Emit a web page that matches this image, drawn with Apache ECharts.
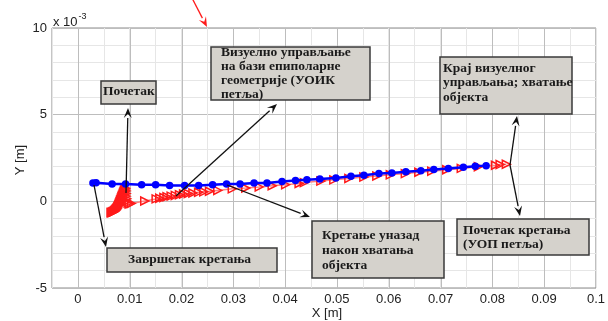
<!DOCTYPE html>
<html><head><meta charset="utf-8">
<script src="https://cdn.jsdelivr.net/npm/echarts@6/dist/echarts.min.js"></script>
<style>html,body{margin:0;padding:0;background:#fff}#c{width:608px;height:321px}</style>
</head><body><div id="c"></div>
<script>
// Y values are in units of 1e-3 m (axis shows "x 10^-3")
const blueX = [0.0029,0.0035,0.0066,0.0092,0.0123,0.0150,0.0177,0.0206,0.0233,0.0260,0.0287,0.0313,0.0340,0.0365,0.0394,0.0420,0.0442,0.0467,0.0498,0.0527,0.0552,0.0581,0.0606,0.0633,0.0662,0.0687,0.0715,0.0744,0.0767,0.0788];
const blueY = [1.06,1.07,1.00,1.00,0.96,0.95,0.92,0.92,0.92,0.96,1.00,1.00,1.06,1.06,1.14,1.20,1.25,1.29,1.35,1.45,1.50,1.60,1.64,1.70,1.77,1.83,1.89,1.97,2.02,2.06];
const redX = [0.0827,0.0815,0.0806,0.0773,0.0740,0.0712,0.0683,0.0658,0.0632,0.0603,0.0577,0.0552,0.0523,0.0494,0.0469,0.0437,0.0427,0.0401,0.0375,0.0350,0.0324,0.0298,0.0270,0.0254,0.0243,0.0233,0.0222,0.0213,0.0204,0.0196,0.0188,0.0180,0.0172,0.0166,0.0158,0.0151,0.0129,0.0103,0.0099,0.0097,0.0095,0.0094,0.0093,0.0093,0.0093,0.0092,0.0091,0.0090,0.0089,0.0088,0.0087,0.0086,0.0085,0.0084,0.0083,0.0082,0.0081,0.0080,0.0079,0.0078,0.0077,0.0076,0.0075,0.0074,0.0073,0.0072,0.0071,0.0070,0.0069,0.0068,0.0067,0.0066,0.0065,0.0064];
const redY = [2.14,2.12,2.08,2.00,1.90,1.82,1.74,1.68,1.60,1.53,1.46,1.40,1.32,1.24,1.17,1.08,1.03,0.96,0.90,0.83,0.77,0.72,0.63,0.58,0.55,0.52,0.48,0.45,0.42,0.38,0.34,0.30,0.26,0.22,0.18,0.14,0.02,-0.12,-0.16,-0.10,0.00,0.15,0.30,0.45,0.60,0.75,0.70,0.62,0.55,0.48,0.40,0.33,0.26,0.18,0.10,0.03,-0.05,-0.12,-0.20,-0.26,-0.32,-0.38,-0.42,-0.46,-0.50,-0.53,-0.56,-0.58,-0.60,-0.62,-0.63,-0.64,-0.65,-0.65];
const xMajor = [0,0.01,0.02,0.03,0.04,0.05,0.06,0.07,0.08,0.09];
const xMin = -0.005, xMax = 0.1, yMin = -5, yMax = 10;

const chart = echarts.init(document.getElementById('c'));
const serif = '"Liberation Serif","DejaVu Serif",serif';
const sans = '"Liberation Sans",Arial,sans-serif';

function box(x,y,w,h,text,tx,ty,align,lh){
  return [{type:'rect',z:100,shape:{x:x,y:y,width:w,height:h},style:{fill:'#d5d2cc',stroke:'#3a3a3a',lineWidth:1.5}},
          {type:'text',z:101,x:tx,y:ty,style:{text:text,font:'bold 13.5px '+serif,fill:'#1a1a1a',align:align,verticalAlign:'top',lineHeight:lh}}];
}
function arrow(x1,y1,x2,y2,col){
  const a=Math.atan2(y2-y1,x2-x1),L=10,W=4;
  const bx=x2-L*Math.cos(a),by=y2-L*Math.sin(a);
  const px=-Math.sin(a)*W,py=Math.cos(a)*W;
  return [{type:'line',z:102,shape:{x1:x1,y1:y1,x2:bx,y2:by},style:{stroke:col,lineWidth:1.3}},
          {type:'polygon',z:102,shape:{points:[[x2,y2],[bx+px,by+py],[x2-0.6*L*Math.cos(a),y2-0.6*L*Math.sin(a)],[bx-px,by-py]]},style:{fill:col}}];
}
const g = [].concat(
  box(101,81,55,23,'Почетак',103,85,'left',14),
  box(211,47,159,53,'Визуелно управљање\nна бази епиполарне\nгеометрије (УОИК\nпетља)',221,46,'left',14),
  box(440,57,132,57,'Крај визуелног\nуправљања; хватање\nобјекта',443,61,'left',14.5),
  box(107,248,170,24,'Завршетак кретања',128,253,'left',14),
  box(312,221,132,57,'Кретање уназад\nнакон хватања\nобјекта',322,228,'left',15),
  box(457,219,132,36,'Почетак кретања\n(УОП петља)',463,223,'left',14.5),
  arrow(126,193,128,108,'#111'),
  arrow(176,196,277,104,'#111'),
  arrow(510,165,517,116,'#111'),
  arrow(510,165,520,216,'#111'),
  arrow(94,185,106,247,'#111'),
  arrow(227,185,310,217,'#111'),
  arrow(192,-2,207,27,'#ff1a1a'),
  [{type:'text',x:53,y:12,style:{text:'{a|x 10}{b|-3}',rich:{a:{font:'13px '+sans,fill:'#222',verticalAlign:'bottom'},b:{font:'9px '+sans,fill:'#222',verticalAlign:'top',padding:[0,0,8,1]}}}},
   {type:'text',x:327,y:313,style:{text:'X [m]',font:'13px '+sans,fill:'#222',align:'center',verticalAlign:'middle'}},
   {type:'text',x:20,y:160,rotation:Math.PI/2,style:{text:'Y [m]',font:'13px '+sans,fill:'#222',align:'center',verticalAlign:'middle'}}]
);

chart.setOption({
  animation:false,
  grid:{left:52,right:10,top:28,bottom:33,show:true,borderColor:'#8a8a8a',borderWidth:1,backgroundColor:'#fff'},
  xAxis:{type:'value',min:xMin,max:xMax,interval:0.005,
    axisLine:{show:false},axisTick:{show:false},
    axisLabel:{margin:5,color:'#222',fontSize:13,fontFamily:sans,
      formatter:function(v){const k=Math.round(v*1000);return (k%10===0)?String(parseFloat(v.toFixed(3))):'';}},
    splitLine:{show:true,lineStyle:{color:'#e6e6e6',width:1}}},
  yAxis:{type:'value',min:yMin,max:yMax,interval:5,
    axisLine:{show:false},axisTick:{show:false},
    axisLabel:{margin:5,color:'#222',fontSize:13,fontFamily:sans},
    splitLine:{show:true,lineStyle:{color:'#bdbdbd',width:1}},
    minorTick:{show:false,splitNumber:5},
    minorSplitLine:{show:true,lineStyle:{color:'#e6e6e6',width:1}}},
  series:[
    {type:'custom',z:1,silent:true,data:xMajor.map(function(v){return [v,0];}),encode:{x:0,y:1},
     renderItem:function(params,api){
       const t=api.coord([api.value(0),yMax]),b=api.coord([api.value(0),yMin]);
       const x=Math.round(t[0])+0.5;
       return {type:'line',shape:{x1:x,y1:t[1],x2:x,y2:b[1]},style:{stroke:'#bdbdbd',lineWidth:1}};
     }},
    {type:'line',z:3,data:redX.map(function(x,i){return [x,redY[i]];}),
     lineStyle:{color:'#ff8080',width:1.5},symbol:'triangle',symbolSize:8,symbolRotate:-90,
     itemStyle:{color:'rgba(255,255,255,0)',borderColor:'#ff1a1a',borderWidth:1.5}},
    {type:'line',z:4,data:blueX.map(function(x,i){return [x,blueY[i]];}),
     lineStyle:{color:'#0000ff',width:2.5},symbol:'circle',symbolSize:7.5,
     itemStyle:{color:'#0000ff'}}
  ],
  graphic:g
});
</script></body></html>
